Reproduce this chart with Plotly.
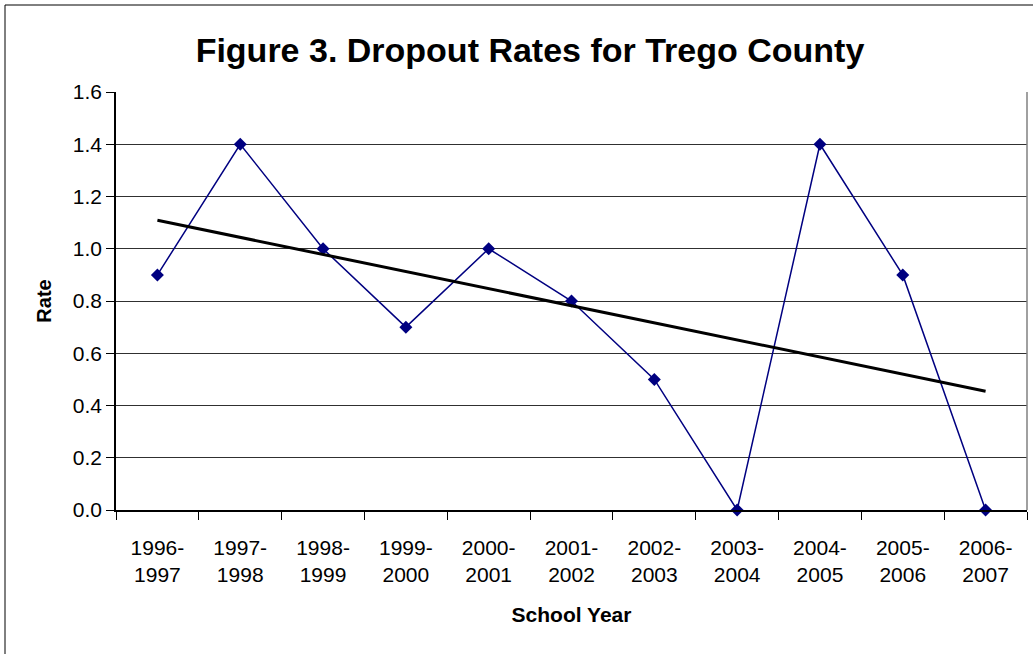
import numpy as np
import plotly.graph_objects as go

years = ["1996-<br>1997", "1997-<br>1998", "1998-<br>1999", "1999-<br>2000", "2000-<br>2001",
         "2001-<br>2002", "2002-<br>2003", "2003-<br>2004", "2004-<br>2005", "2005-<br>2006",
         "2006-<br>2007"]
rates = [0.9, 1.4, 1.0, 0.7, 1.0, 0.8, 0.5, 0.0, 1.4, 0.9, 0.0]
y_ticks = [0.0, 0.2, 0.4, 0.6, 0.8, 1.0, 1.2, 1.4, 1.6]

idx = np.arange(len(rates))
slope, intercept = np.polyfit(idx, rates, 1)
trend = slope * idx + intercept

W, H = 1033, 654
L, R, T, B = 116, 1027, 92, 510
pw, ph = R - L, B - T

fig = go.Figure()
fig.add_trace(go.Scatter(x=years, y=rates, mode="lines+markers",
                         line=dict(color="#000080", width=1.5),
                         marker=dict(symbol="diamond", size=10, color="#000080"),
                         showlegend=False, cliponaxis=False))
fig.add_trace(go.Scatter(x=[years[0], years[-1]], y=[trend[0], trend[-1]], mode="lines",
                         line=dict(color="black", width=3), showlegend=False))

fig.update_layout(
    width=W, height=H,
    margin=dict(l=L, r=W - R, t=T, b=H - B),
    paper_bgcolor="white", plot_bgcolor="white",
    font=dict(family="Liberation Sans, Arial", color="black"),
    title=dict(text="<b>Figure 3. Dropout Rates for Trego County</b>",
               x=530 / W, xanchor="center", y=1 - 50 / H, yanchor="middle",
               font=dict(size=34, color="black")),
    xaxis=dict(type="category", tickson="boundaries", ticks="outside", ticklen=8,
               tickcolor="black", showline=True, linecolor="black", linewidth=1.5,
               showgrid=False, tickfont=dict(size=21), ticklabelstandoff=18,
               title=dict(text="<b>School Year</b>", font=dict(size=21), standoff=22),
               range=[-0.5, 10.5]),
    yaxis=dict(range=[0, 1.6], tickvals=y_ticks, ticktext=[f"{v:.1f}" for v in y_ticks],
               ticks="outside", ticklen=8, tickcolor="black",
               showline=True, linecolor="black", linewidth=1.5,
               showgrid=True, gridcolor="#303030", gridwidth=1,
               tickfont=dict(size=21), zeroline=False,
               title=dict(text="<b>Rate</b>", font=dict(size=20), standoff=16)),
    shapes=[
        dict(type="rect", xref="paper", yref="paper",
             x0=(5 - L) / pw, x1=(W + 20 - L) / pw,
             y0=(B - (H + 20)) / ph, y1=(B - 5) / ph,
             line=dict(color="black", width=1), layer="below"),
        dict(type="line", xref="paper", yref="paper", x0=1, x1=1, y0=0, y1=1,
             line=dict(color="#808080", width=1.5)),
    ],
)

fig.write_html("out.html", config={"displayModeBar": False},
               post_script="document.body.style.margin='0';")
